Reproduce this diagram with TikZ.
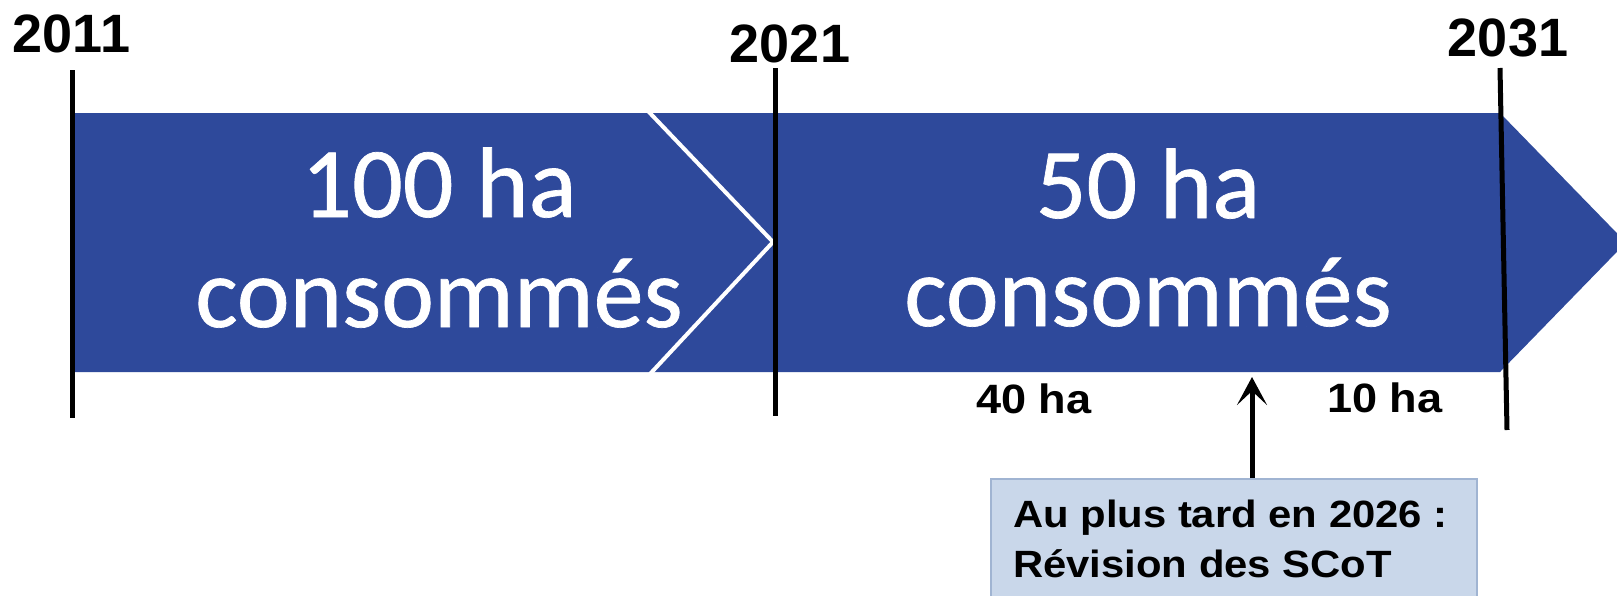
\documentclass[tikz,border=0pt]{standalone}
\usepackage{fontspec}
\setmainfont{Liberation Sans}
\newfontfamily\carlito[FakeBold=0.7]{Carlito}
\newfontfamily\widesans[FakeStretch=1.1]{Liberation Sans}
\usetikzlibrary{arrows.meta}
\definecolor{barblue}{RGB}{46,73,155}
\definecolor{boxfill}{RGB}{201,215,234}
\definecolor{boxedge}{RGB}{160,180,210}
\tikzset{
  year/.style={anchor=base, inner sep=0pt, font=\bfseries\fontsize{54}{60}\selectfont},
  bigtext/.style={anchor=base, inner sep=0pt, text=white, font=\carlito\fontsize{100}{110}\selectfont},
  halabel/.style={anchor=base, inner sep=0pt, font=\widesans\bfseries\fontsize{41}{48}\selectfont},
  boxtext/.style={anchor=base west, inner sep=0pt, font=\widesans\bfseries\fontsize{38}{50}\selectfont},
  tick/.style={line width=5pt, black},
  revbox/.style={draw=boxedge, line width=2pt, fill=boxfill, anchor=north west, minimum width=486pt, minimum height=160pt, inner sep=0pt},
  uparrow/.style={line width=5pt, -{Stealth[length=28pt, width=30pt, inset=14pt]}}
}
\begin{document}
\begin{tikzpicture}[x=1pt, y=-1pt]
\clip (0,0) rectangle (1617,595);
\fill[white] (0,0) rectangle (1617,595);
% main arrow bar
\fill[barblue] (72,113) -- (1500,113) -- (1626,242.5) -- (1500,372) -- (72,372) -- cycle;
% white chevron separation
\draw[white, line width=4pt] (648,111) -- (773,242) -- (650,374);
% year labels
\node[year] (y2011) at (71.5,52) {2011};
\node[year] (y2021) at (790,62) {2021};
\node[year] (y2031) at (1508,56) {2031};
% ticks
\coordinate (t2011a) at (72,70);
\coordinate (t2011b) at (72,418);
\coordinate (t2021a) at (775,68);
\coordinate (t2021b) at (775,416);
\coordinate (t2031a) at (1500,68);
\coordinate (t2031b) at (1507,430);
\draw[tick] (t2011a) -- (t2011b);
\draw[tick] (t2021a) -- (t2021b);
\draw[tick] (t2031a) -- (t2031b);
% big texts
\node[bigtext] (c1a) at (439,217) {100 ha};
\node[bigtext] (c1b) at (439,327) {consommés};
\node[bigtext] (c2a) at (1148,218) {50 ha};
\node[bigtext] (c2b) at (1148,326) {consommés};
% small labels
\node[halabel] (h40) at (1034,413) {40 ha};
\node[halabel] (h10) at (1385,412) {10 ha};
% revision box
\node[revbox] (rev) at (990,478) {};
\node[boxtext] (rev1) at (1013,527) {Au plus tard en 2026 :};
\node[boxtext] (rev2) at (1013,577) {Révision des SCoT};
\coordinate (atip) at (1252,377);
\draw[uparrow] (rev.north -| atip) -- (atip);
\end{tikzpicture}
\end{document}
